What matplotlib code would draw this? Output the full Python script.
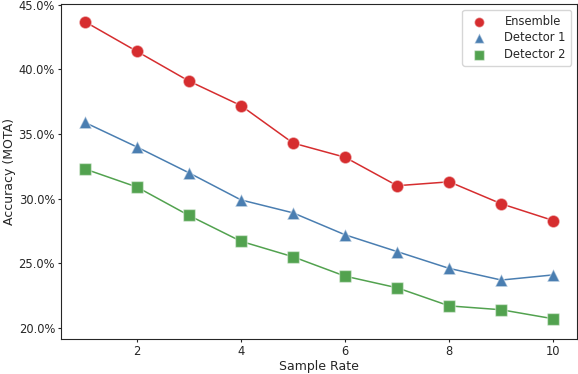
import matplotlib
matplotlib.use("Agg")
import matplotlib.pyplot as plt
import seaborn as sns
from matplotlib.ticker import FuncFormatter

sns.set_style("ticks")
plt.rcParams['font.family'] = ['DejaVu Sans']

sample_rate = [1, 2, 3, 4, 5, 6, 7, 8, 9, 10]
ensemble = [43.7, 41.4, 39.1, 37.2, 34.3, 33.2, 31.0, 31.3, 29.6, 28.3]
detector1 = [35.9, 34.0, 32.0, 29.9, 28.9, 27.2, 25.9, 24.6, 23.7, 24.1]
detector2 = [32.3, 30.9, 28.7, 26.7, 25.5, 24.0, 23.1, 21.7, 21.4, 20.7]
labels = ["Ensemble", "Detector 1", "Detector 2"]

series = [ensemble, detector1, detector2]
colors = ['#d62d2f', '#4a7eb1', '#52a24f']
markers = ['o', '^', 's']

fs = 8.3
fig, ax = plt.subplots(figsize=(5.78, 3.74), dpi=100)
for vals, c, m, lab in zip(series, colors, markers, labels):
    ax.plot(sample_rate, vals, color=c, lw=1.1, zorder=2)
    ax.scatter(sample_rate, vals, color=c, marker=m, s=80,
               edgecolors=(1, 1, 1, 0.45), linewidths=1.0, label=lab, zorder=3)

ax.set_ylim(19.15, 45.08)
ax.set_yticks([20, 25, 30, 35, 40, 45])
ax.yaxis.set_major_formatter(FuncFormatter(lambda v, p: f"{v:.1f}%"))
ax.set_xticks([2, 4, 6, 8, 10])
ax.set_xlabel("Sample Rate", fontsize=9, labelpad=1.5)
ax.set_ylabel("Accuracy (MOTA)", fontsize=9, labelpad=1.5)
ax.tick_params(labelsize=fs, length=2.5, pad=2)
leg = ax.legend(loc='upper right', fontsize=fs, frameon=True, markerscale=0.8,
                borderaxespad=0.5, handletextpad=1.2, borderpad=0.45,
                labelspacing=0.3)

fig.subplots_adjust(left=0.106, right=0.998, top=0.99, bottom=0.094)
fig.savefig("out.png", dpi=100)
